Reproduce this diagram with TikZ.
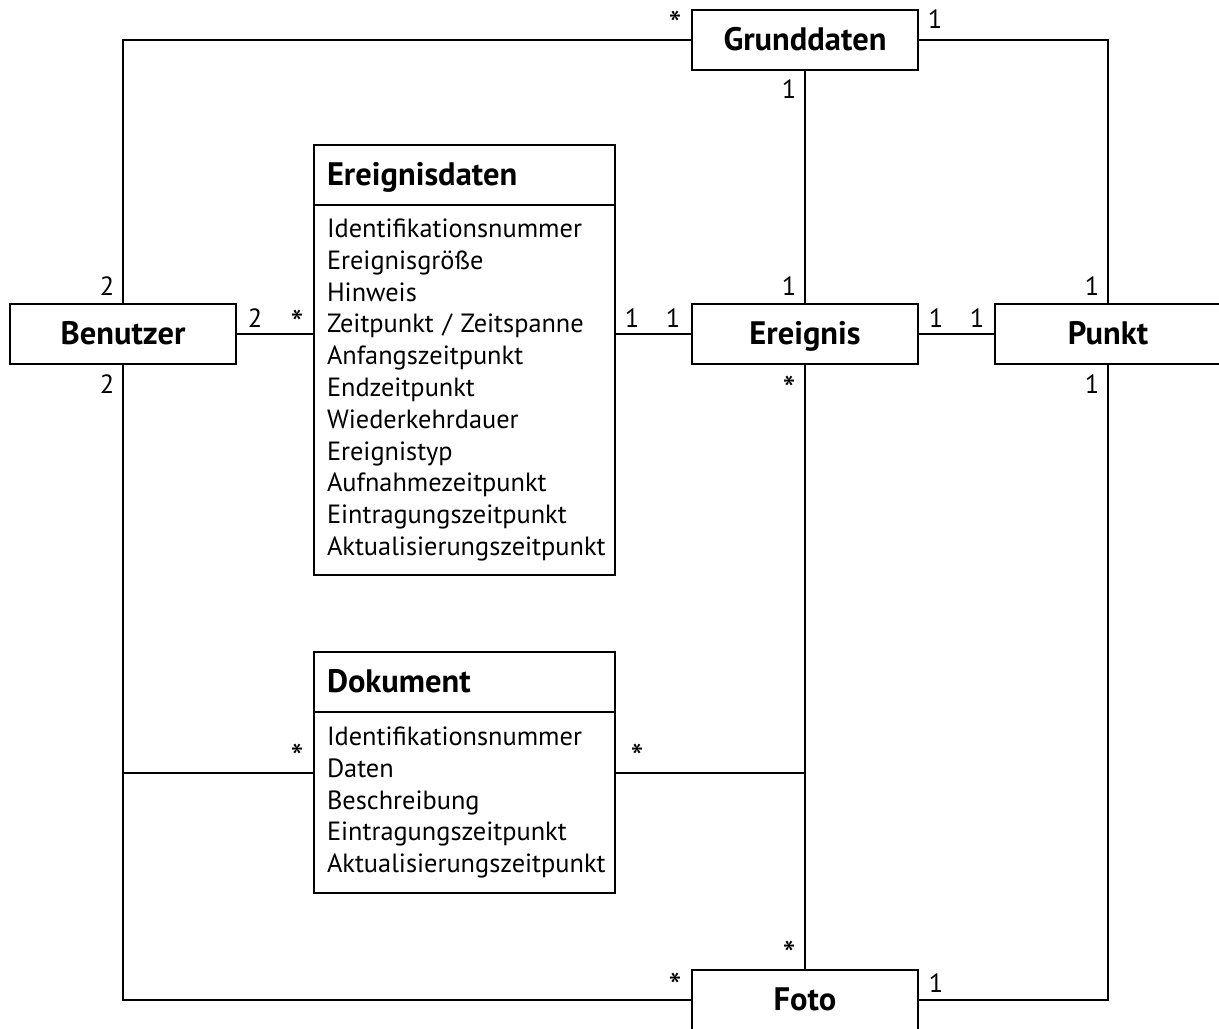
\documentclass[tikz,border=0pt]{standalone}
\usepackage{fontspec}
\setmainfont{PT Sans}
\usetikzlibrary{positioning}

\begin{document}
\begin{tikzpicture}[x=0.02cm, y=-0.02cm, line width=1.1pt]
    % Define styles
    \tikzset{
        entity/.style={rectangle, draw, minimum width=4.52cm, minimum height=1.2cm, inner sep=0pt, outer sep=0pt, text height=12pt, text depth=0pt, font=\bfseries\fontsize{18.5}{20}\selectfont},
        classhead/.style={rectangle, draw, minimum width=6.02cm, minimum height=1.2cm, text width=5.5cm, inner xsep=0.26cm, inner ysep=0pt, outer sep=0pt, text height=12pt, text depth=0pt, align=left, anchor=north west, font=\bfseries\fontsize{18.5}{20}\selectfont},
        classbody/.style={rectangle, draw, text width=5.5cm, inner xsep=0.26cm, inner ysep=0pt, outer sep=0pt, align=left, font=\fontsize{15}{18.1}\selectfont},
        mult/.style={anchor=base, inner sep=0pt, font=\fontsize{15}{17}\selectfont},
        star/.style={anchor=base, inner sep=0pt, font=\fontsize{21}{21}\selectfont, yshift=-0.18cm}
    }
    \useasboundingbox (0,0) rectangle (1219,1028);

    % Nodes
    \node[entity] (grunddaten) at (805,40) {Grunddaten};
    \node[entity] (benutzer) at (123,334) {Benutzer};
    \node[entity] (ereignis) at (805,334) {Ereignis};
    \node[entity] (punkt) at (1108,334) {Punkt};
    \node[entity] (foto) at (805,1000) {Foto};

    \node[classhead] (ereignisdaten) at (314,145) {Ereignisdaten};
    \node[classbody, minimum height=7.4cm] (ereignisdatenattr) [below=0pt of ereignisdaten] {Identifikationsnummer\\
        Ereignisgröße\\
        Hinweis\\
        Zeitpunkt / Zeitspanne\\
        Anfangszeitpunkt\\
        Endzeitpunkt\\
        Wiederkehrdauer\\
        Ereignistyp\\
        Aufnahmezeitpunkt\\
        Eintragungszeitpunkt\\
        Aktualisierungszeitpunkt};

    \node[classhead] (dokument) at (314,652) {Dokument};
    \node[classbody, minimum height=3.62cm] (dokumentattr) [below=0pt of dokument] {Identifikationsnummer\\
        Daten\\
        Beschreibung\\
        Eintragungszeitpunkt\\
        Aktualisierungszeitpunkt};

    \coordinate (benutzerjoin) at (123,773);
    \coordinate (ereignisjoin) at (805,773);

    % Arrows
    \draw (benutzer.north) |- (grunddaten.west);
    \draw (grunddaten.east) -| (punkt.north);
    \draw (grunddaten) -- (ereignis);
    \draw (benutzer.east) -- (benutzer.east -| ereignisdatenattr.west);
    \draw (ereignisdatenattr.east |- ereignis.west) -- (ereignis.west);
    \draw (ereignis) -- (punkt);
    \draw (ereignis) -- (foto);
    \draw (benutzer.south) |- (foto.west);
    \draw (benutzerjoin) -- (benutzerjoin -| dokumentattr.west);
    \draw (dokumentattr.east |- ereignisjoin) -- (ereignisjoin);
    \draw (foto.east) -| (punkt.south);

    % Multiplicities
    \node[star] (m1) at (675,28) {*};
    \node[mult] (m2) at (935,28) {1};
    \node[mult] (m3) at (789,98) {1};
    \node[mult] (m4) at (789,295) {1};
    \node[mult] (m5) at (1092,295) {1};
    \node[mult] (m6) at (1092,393) {1};
    \node[star] (m7) at (789,393) {*};
    \node[mult] (m8) at (107,295) {2};
    \node[mult] (m9) at (107,393) {2};
    \node[mult] (m10) at (255,327) {2};
    \node[star] (m11) at (297,327) {*};
    \node[mult] (m12) at (632,327) {1};
    \node[mult] (m13) at (673,327) {1};
    \node[mult] (m14) at (936,327) {1};
    \node[mult] (m15) at (977,327) {1};
    \node[star] (m16) at (297,761) {*};
    \node[star] (m17) at (637,761) {*};
    \node[star] (m18) at (789,958) {*};
    \node[star] (m19) at (675,990) {*};
    \node[mult] (m20) at (936,992) {1};
\end{tikzpicture}
\end{document}
